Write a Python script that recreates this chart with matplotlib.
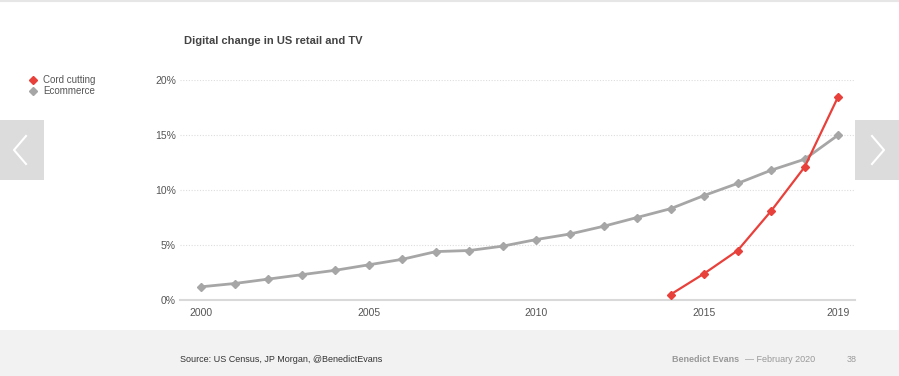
import matplotlib.pyplot as plt
from matplotlib.patches import Rectangle
from matplotlib.lines import Line2D

plt.rcParams['font.family'] = ['Liberation Sans', 'DejaVu Sans']

years = list(range(2000, 2020))
ecommerce = [1.2, 1.5, 1.9, 2.3, 2.7, 3.2, 3.7, 4.4, 4.5, 4.9,
             5.5, 6.0, 6.7, 7.5, 8.3, 9.5, 10.6, 11.8, 12.8, 15.0]
cord_years = [2014, 2015, 2016, 2017, 2018, 2019]
cord_cutting = [0.5, 2.4, 4.5, 8.1, 12.1, 18.5]
yticks = [0, 5, 10, 15, 20]
xticks = [2000, 2005, 2010, 2015, 2019]

W, H = 899, 376
fig = plt.figure(figsize=(W / 100, H / 100), dpi=100)
fig.patch.set_facecolor('white')

# footer band and top rule
fig.patches.append(Rectangle((0, 0), 1, 46 / H, transform=fig.transFigure,
                             facecolor='#f2f2f2', edgecolor='none', zorder=0))
fig.add_artist(Line2D([0, 1], [1 - 1 / H, 1 - 1 / H], color='#e6e6e6', lw=1.5))

ax = fig.add_axes([180 / W, 76 / H, 675 / W, 220 / H])
ax.set_xlim(1999.37, 2019.5)
ax.set_ylim(0, 20)

for y in yticks[1:]:
    ax.axhline(y, color='#dddddd', lw=0.8, ls=(0, (1, 1.5)), zorder=1)

ax.plot(years, ecommerce, color='#a6a6a6', lw=2, marker='D', ms=4.5,
        zorder=3, clip_on=False)
ax.plot(cord_years, cord_cutting, color='#e8403a', lw=1.6, marker='D', ms=4.5,
        zorder=4, clip_on=False)

for s in ['top', 'right', 'left']:
    ax.spines[s].set_visible(False)
ax.spines['bottom'].set_color('#d9d9d9')
ax.spines['bottom'].set_linewidth(1.5)

ax.set_yticks(yticks)
ax.set_yticklabels([f'{v}%' for v in yticks])
ax.set_xticks(xticks)
ax.set_xticklabels([str(v) for v in xticks])
ax.tick_params(axis='both', length=0, labelsize=7.5, labelcolor='#555555')
ax.tick_params(axis='y', pad=3)
ax.tick_params(axis='x', pad=6)

fig.text(184 / W, 1 - 41 / H, 'Digital change in US retail and TV',
         fontsize=8, fontweight='bold', color='#444444', va='center')

# legend
fig.add_artist(Line2D([33 / W], [1 - 80 / H], marker='D', ms=4.5,
                      color='#e8403a', lw=0))
fig.add_artist(Line2D([33 / W], [1 - 91 / H], marker='D', ms=4.5,
                      color='#a6a6a6', lw=0))
fig.text(43 / W, 1 - 80 / H, 'Cord cutting', fontsize=7, color='#555555', va='center')
fig.text(43 / W, 1 - 91 / H, 'Ecommerce', fontsize=7, color='#555555', va='center')

# footer text
fig.text(180 / W, 1 - 360 / H, 'Source: US Census, JP Morgan, @BenedictEvans',
         fontsize=6.5, color='#333333', va='center')
fig.text(672 / W, 1 - 360 / H, 'Benedict Evans', fontsize=6.5, color='#999999',
         fontweight='bold', va='center')
fig.text(745 / W, 1 - 360 / H, '\u2014 February 2020', fontsize=6.5,
         color='#999999', va='center')
fig.text(847 / W, 1 - 360 / H, '38', fontsize=6.5, color='#999999', va='center')

# slide navigation boxes
for x0, pts in [(0, [(26, 136), (14, 150), (26, 164)]),
                (855, [(872, 136), (884, 150), (872, 164)])]:
    fig.patches.append(Rectangle((x0 / W, 1 - 180 / H), 44 / W, 60 / H,
                                 transform=fig.transFigure, facecolor='#dcdcdc',
                                 edgecolor='none', zorder=5))
    fig.add_artist(Line2D([p[0] / W for p in pts], [1 - p[1] / H for p in pts],
                          color='white', lw=1.5, zorder=6))

fig.savefig('out.png', dpi=100)
